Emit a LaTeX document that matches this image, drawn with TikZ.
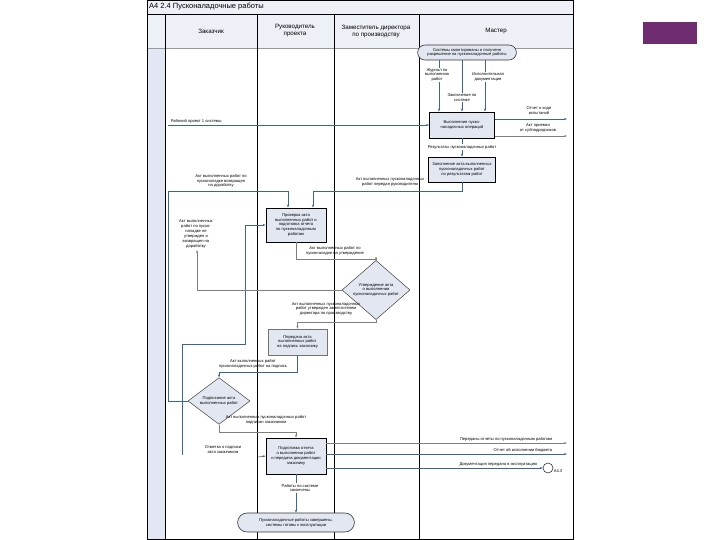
\documentclass[tikz,border=0pt]{standalone}
\usepackage{fontspec}
\setmainfont{Liberation Sans}
\usetikzlibrary{shapes.geometric,shapes.misc,arrows.meta}

\definecolor{panelbg}{HTML}{EEF0F8}
\definecolor{stripbg}{HTML}{E3E6F5}
\definecolor{taskfill}{HTML}{E2E7F2}
\definecolor{flowblue}{HTML}{3B6690}
\definecolor{flowgray}{HTML}{7F7F7F}
\definecolor{slidepurple}{HTML}{6F2C70}

\tikzset{
  small/.style={font=\fontsize{4.1}{4.9}\selectfont, align=center, inner sep=0.6pt},
  headtxt/.style={font=\fontsize{6.2}{7}\selectfont, align=center},
  taskbox/.style={small, rectangle, draw=black, line width=0.9pt, fill=taskfill},
  choice/.style={small, diamond, draw=black!75, line width=0.5pt, fill=taskfill, inner sep=0pt},
  eventbox/.style={small, rounded rectangle, draw=black!80, line width=0.6pt, fill=taskfill},
  flow/.style={draw=flowblue, line width=0.55pt, -{Stealth[length=3pt,width=2.2pt]}},
  flowg/.style={flow, draw=flowgray},
  tagw/.style={small, fill=white},
}

\begin{document}
\begin{tikzpicture}[x=1pt,y=-1pt]
    \useasboundingbox (0,0) rectangle (720,540);
    % frame and lanes
    \fill[panelbg] (147,0) rectangle (573,48);
    \fill[stripbg] (147,48) rectangle (165,539);
    \fill[slidepurple] (643,22) rectangle (697,44);
    \draw[black!40, line width=0.4pt] (147,48) -- (573,48);
    \draw[line width=1pt] (147,0.5) rectangle (573,539);
    \draw[line width=0.9pt] (147,14) -- (573,14);
    \foreach \x in {165,257,334,419}
        \draw[line width=1pt] (\x,14) -- (\x,539);

    \node[font=\fontsize{7.5}{8}\selectfont, anchor=west, inner sep=0pt] (title) at (149,7) {А4 2.4 Пусконаладочные работы};
    \node[headtxt] (hcustomer) at (211,31) {Заказчик};
    \node[headtxt] (hmanager) at (295,31) {Руководитель\\проекта};
    \node[headtxt] (hdeputy) at (376,31) {Заместитель директора\\по производству};
    \node[headtxt] (hforeman) at (496,31) {Мастер};

    % nodes
    \node[eventbox, minimum width=100pt, minimum height=15pt] (mounted) at (467,52.5) {Системы смонтированы и получено\\разрешение на пусконаладочные работы};
    \node[taskbox, minimum width=65pt, minimum height=26pt] (runops) at (462,125) {Выполнение пуско-\\наладочных операций};
    \node[taskbox, minimum width=67pt, minimum height=25pt] (fillact) at (462,169.5) {Заполнение акта выполненных\\пусконаладочных работ\\по результатам работ};
    \node[taskbox, minimum width=60pt, minimum height=34pt] (checkact) at (296,225) {Проверка акта\\выполненных работ и\\подготовка отчета\\по пусконаладочным\\работам};
    \node[choice, minimum width=68pt, minimum height=56pt] (approve) at (376,290) {Утверждение акта\\о выполнении\\пусконаладочных работ};
    \node[taskbox, draw=black!55, line width=0.5pt, minimum width=59pt, minimum height=26pt] (handover) at (297.5,342) {Передача акта\\выполненных работ\\на подпись заказчику};
    \node[choice, minimum width=62pt, minimum height=38pt] (signact) at (219,401) {Подписание акта\\выполненных работ};
    \node[taskbox, minimum width=60pt, minimum height=36pt] (closeact) at (296,456) {Подготовка отчета\\о выполнении работ\\и передача документации\\заказчику};
    \node[eventbox, minimum width=118pt, minimum height=19pt] (finished) at (296,522.5) {Пусконаладочные работы завершены,\\системы готовы к эксплуатации};
    \node[circle, draw=black!80, line width=0.6pt, fill=white, minimum size=10pt, inner sep=0pt] (nextref) at (548,468) {};
    \node[small, anchor=north west] (nextlbl) at (553,469) {А4.3};

    % free ends
    \coordinate (inproj) at (168,125);
    \coordinate (outA) at (567,119);
    \coordinate (outB) at (567,136);
    \coordinate (outC) at (567,443);
    \coordinate (outD) at (567,454);
    \coordinate (backtop) at (168,191);
    \coordinate (custnote) at (197,250);
    \coordinate (markin) at (182,455);
    \coordinate (loopturn) at (245,344);
    \coordinate (markstub) at (258,457);

    % connectors
    \draw[flow] ([xshift=-23pt]runops.north |- mounted.south) -- ([xshift=-23pt]runops.north);
    \draw[flow] (mounted.south -| runops.north) -- (runops.north);
    \draw[flow] ([xshift=23pt]runops.north |- mounted.south) -- ([xshift=23pt]runops.north);
    \node[tagw] (journal) at (437,75) {Журнал по\\выполнению\\работ};
    \node[tagw] (asbuilt) at (488,77) {Исполнительная\\документация};
    \node[tagw] (sysnote) at (462,98) {Заключение по\\системе};

    \draw[flow] (inproj) -- (runops.west);
    \node[small, anchor=south west] (inlbl) at (170,124) {Рабочий проект 1 системы};

    \draw[flow] (runops.east |- outA) -- (outA);
    \draw[flowg] (runops.east |- outB) -- (outB);
    \node[small] (outAlbl) at (539,111) {Отчет о ходе\\испытаний};
    \node[small] (outBlbl) at (538,128) {Акт приемки\\от субподрядчиков};

    \draw[flow] (runops.south) -- (fillact.north);
    \node[tagw] (result) at (462,147) {Результаты пусконаладочных работ};

    \draw[flow] (fillact.south) -- (fillact.south |- backtop) -| ([xshift=17pt]checkact.north);
    \node[small] (tocheck) at (390,182) {Акт выполненных пусконаладочных\\работ передан руководителю};

    \draw[flow] (signact.west) -| (backtop) -| ([xshift=-8pt]checkact.north);
    \node[small] (rework) at (221,181) {Акт выполненных работ по\\пусконаладке возвращен\\на доработку};

    \draw[flow] (markin) |- (loopturn) |- (checkact.west);

    \draw[flowg] (checkact.south) -- ++(0,17) -| (approve.north);
    \node[small] (toapprove) at (335,251) {Акт выполненных работ по\\пусконаладке на утверждение};

    \draw[flowg] (approve.west) -| (custnote);
    \node[small, anchor=south] (rejected) at (196,249) {Акт выполненных\\работ по пуско-\\наладке не\\утвержден и\\возвращен на\\доработку};

    \draw[flowg] (approve.south) -- ++(0,2) -| (handover.north);
    \node[small] (approved) at (326,309) {Акт выполненных пусконаладочных\\работ утвержден заместителем\\директора по производству};

    \draw[flow] (handover.south) -- ++(0,17) -| (signact.north);
    \node[small] (tosign) at (253,364) {Акт выполненных работ\\пусконаладочных работ на подпись};

    \draw[flowg] (signact.south) -- ++(0,8) -| (closeact.north);
    \node[small] (signed) at (266,420) {Акт выполненных пусконаладочных работ\\подписан заказчиком};

    \draw[flow] (markstub) -- (closeact.west);
    \node[small] (marklbl) at (223,450) {Отметка о подписи\\акта заказчиком};

    \draw[flowg] (closeact.east |- outC) -- (outC);
    \draw[flow] (closeact.east |- outD) -- (outD);
    \draw[flow] (closeact.east |- nextref) -- (nextref.west);
    \node[small, anchor=south east] (outClbl) at (553,442) {Переданы отчеты по пусконаладочным работам};
    \node[small, anchor=south east] (outDlbl) at (553,453) {Отчет об исполнении бюджета};
    \node[small, anchor=south east] (nextin) at (538,467) {Документация передана в эксплуатацию};

    \draw[flow] (closeact.south) -- (finished.north);
    \node[tagw] (worksdone) at (300,488) {Работы по системе\\закончены};
\end{tikzpicture}
\end{document}
